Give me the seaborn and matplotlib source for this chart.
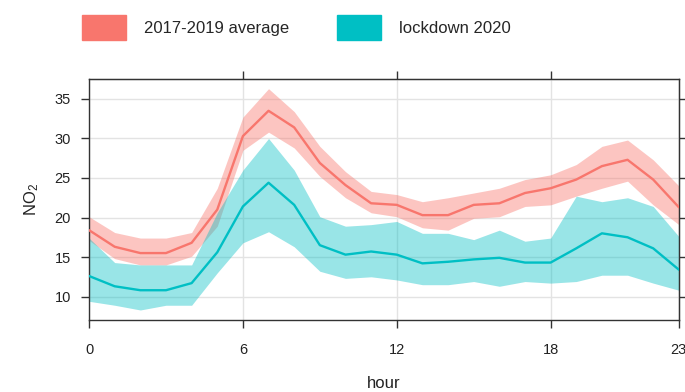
import matplotlib
matplotlib.use("Agg")
import matplotlib.pyplot as plt
import matplotlib.patches as mpatches
import numpy as np
import pandas as pd
import seaborn as sns

hours = list(range(24))
series_names = ["2017-2019 average", "lockdown 2020"]
colors = ["#F8766D", "#00BFC4"]

avg_mean = [18.4, 16.3, 15.5, 15.5, 16.8, 21.0, 30.3, 33.5, 31.4, 26.9, 24.1, 21.8,
            21.6, 20.3, 20.3, 21.6, 21.8, 23.1, 23.7, 24.8, 26.5, 27.3, 24.8, 21.3]
avg_upper = [20.1, 18.1, 17.4, 17.4, 18.1, 23.7, 32.7, 36.3, 33.4, 29.0, 25.8, 23.3,
             22.9, 22.0, 22.5, 23.1, 23.7, 24.8, 25.4, 26.7, 29.0, 29.8, 27.3, 24.0]
avg_lower = [17.1, 14.8, 14.0, 14.0, 15.1, 18.9, 28.5, 30.8, 28.8, 25.2, 22.5, 20.6,
             20.1, 18.7, 18.4, 19.9, 20.1, 21.4, 21.6, 22.7, 23.7, 24.6, 21.6, 19.1]

lock_mean = [12.6, 11.3, 10.8, 10.8, 11.7, 15.6, 21.4, 24.4, 21.6, 16.5, 15.3, 15.7,
             15.3, 14.2, 14.4, 14.7, 14.9, 14.3, 14.3, 16.1, 18.0, 17.5, 16.1, 13.4]
lock_upper = [17.4, 14.3, 14.0, 14.0, 14.0, 20.6, 26.0, 30.0, 26.0, 20.1, 18.9, 19.1,
              19.5, 18.0, 18.0, 17.2, 18.4, 17.0, 17.4, 22.7, 22.0, 22.5, 21.4, 17.6]
lock_lower = [9.4, 8.9, 8.3, 8.9, 8.9, 13.0, 16.8, 18.2, 16.3, 13.2, 12.3, 12.5,
              12.1, 11.5, 11.5, 11.9, 11.3, 11.9, 11.7, 11.9, 12.7, 12.7, 11.7, 10.8]

x_ticks = [0, 6, 12, 18, 23]
y_ticks = [10, 15, 20, 25, 30, 35]

df = pd.DataFrame({
    "hour": hours * 2,
    "no2": avg_mean + lock_mean,
    "series": [series_names[0]] * 24 + [series_names[1]] * 24,
})

sns.set_style("white")
plt.rcParams["font.family"] = ["Liberation Sans", "DejaVu Sans"]
plt.rcParams["mathtext.default"] = "regular"

fig = plt.figure(figsize=(6.85, 3.92), dpi=100)
ax = fig.add_axes([0.130, 0.184, 0.861, 0.614])

# uncertainty bands
ax.fill_between(hours, avg_lower, avg_upper, color=colors[0], alpha=0.42, lw=0, zorder=2)
ax.fill_between(hours, lock_lower, lock_upper, color=colors[1], alpha=0.40, lw=0, zorder=2)

sns.lineplot(data=df, x="hour", y="no2", hue="series", palette=colors,
             ax=ax, legend=False, lw=1.7, zorder=3)

ax.set_xlim(0, 23)
ax.set_ylim(7.05, 37.5)
ax.set_xticks(x_ticks)
ax.set_yticks(y_ticks)
ax.grid(True, color="#e3e3e3", lw=1, zorder=0)
ax.set_axisbelow(True)

for s in ax.spines.values():
    s.set_color("#333333")
    s.set_linewidth(1.0)

tick_kw = dict(direction="out", length=6, width=1, color="#333333")
ax.tick_params(axis="both", labelsize=10.5, labelcolor="#222222", **tick_kw)
ax.tick_params(axis="x", bottom=True, top=False, pad=11)
ax.tick_params(axis="y", left=True, right=False, pad=7)

# top / right ticks without labels (lattice style box)
top_ax = ax.secondary_xaxis("top")
top_ax.set_xticks([6, 12, 18])
top_ax.set_xticklabels(["", "", ""])
top_ax.tick_params(top=True, **tick_kw)

right_ax = ax.secondary_yaxis("right")
right_ax.set_yticks(y_ticks)
right_ax.set_yticklabels([""] * len(y_ticks))
right_ax.tick_params(right=True, **tick_kw)

ax.set_xlabel("hour", fontsize=12, color="#222222", labelpad=13)
ax.set_ylabel("NO$_2$", fontsize=12, color="#222222", labelpad=10)

handles = [mpatches.Patch(color=c, label=n) for c, n in zip(colors, series_names)]
fig.legend(handles=handles, loc="upper center", bbox_to_anchor=(0.433, 1.0), ncol=2,
           frameon=False, fontsize=12, handlelength=2.6, handleheight=1.9,
           handletextpad=1.1, columnspacing=2.9)

fig.savefig("out.png", dpi=100)
